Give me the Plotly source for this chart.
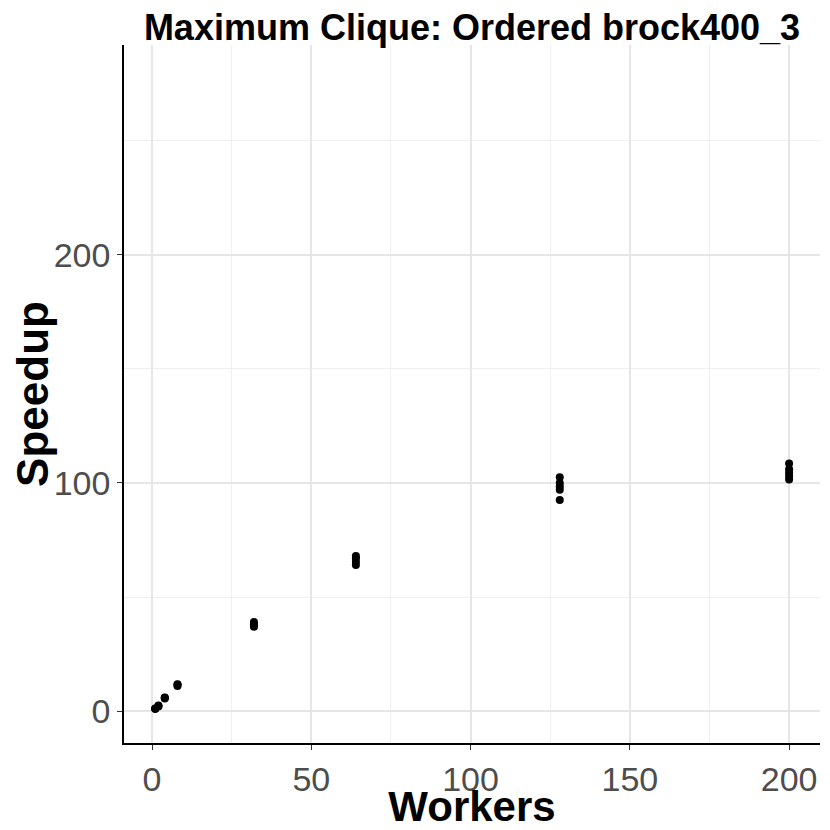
import plotly.graph_objects as go

# speedup runs per worker count
WORKERS = [1, 2, 4, 8, 32, 64, 128, 200]
SPEEDUP_RUNS = {
    1: [1.0, 1.0, 1.1],
    2: [2.0, 2.2, 2.4],
    4: [5.5, 5.8, 6.0],
    8: [11.0, 11.5, 11.8],
    32: [37.0, 38.0, 39.0],
    64: [64.0, 65.5, 67.0, 68.0],
    128: [92.5, 97.0, 98.5, 100.0, 102.5],
    200: [101.5, 103.0, 104.5, 106.0, 108.5],
}

x_vals = [w for w in WORKERS for _ in SPEEDUP_RUNS[w]]
y_vals = [s for w in WORKERS for s in SPEEDUP_RUNS[w]]

FONT = "Liberation Sans"
GRID = "#e6e6e6"

fig = go.Figure()
fig.add_trace(
    go.Scatter(
        x=x_vals,
        y=y_vals,
        mode="markers",
        marker=dict(color="black", size=8),
        showlegend=False,
    )
)

axis_common = dict(
    showline=True,
    linecolor="black",
    linewidth=1.5,
    ticks="outside",
    ticklen=5,
    tickwidth=1.2,
    tickcolor="#333333",
    gridcolor=GRID,
    gridwidth=1.6,
    zeroline=False,
    automargin=False,
    tickfont=dict(family=FONT, size=34, color="#4d4d4d"),
    minor=dict(showgrid=True, gridcolor="#efefef", gridwidth=1),
)

fig.update_xaxes(
    range=[-8.8, 209.7],
    tickvals=[0, 50, 100, 150, 200],
    minor_tickvals=[25, 75, 125, 175],
    title=dict(text="<b>Workers</b>", font=dict(family=FONT, size=42, color="black"), standoff=2),
    **axis_common,
)
fig.update_yaxes(
    range=[-14, 292],
    tickvals=[0, 100, 200],
    minor_tickvals=[50, 150, 250],
    title=dict(text="<b>Speedup</b>", font=dict(family=FONT, size=44, color="black"), standoff=0),
    **axis_common,
)

# page body adds an 8px offset, so the figure is sized to the visible area
fig.update_layout(
    width=822,
    height=822,
    paper_bgcolor="white",
    plot_bgcolor="white",
    margin=dict(l=116, r=10, t=37, b=87),
    title=dict(
        text="<b>Maximum Clique: Ordered brock400_3</b>",
        font=dict(family=FONT, size=36, color="black"),
        x=0.5,
        xref="paper",
        xanchor="center",
        y=0.977,
        yref="container",
        yanchor="middle",
    ),
)

fig.write_html("out.html")
